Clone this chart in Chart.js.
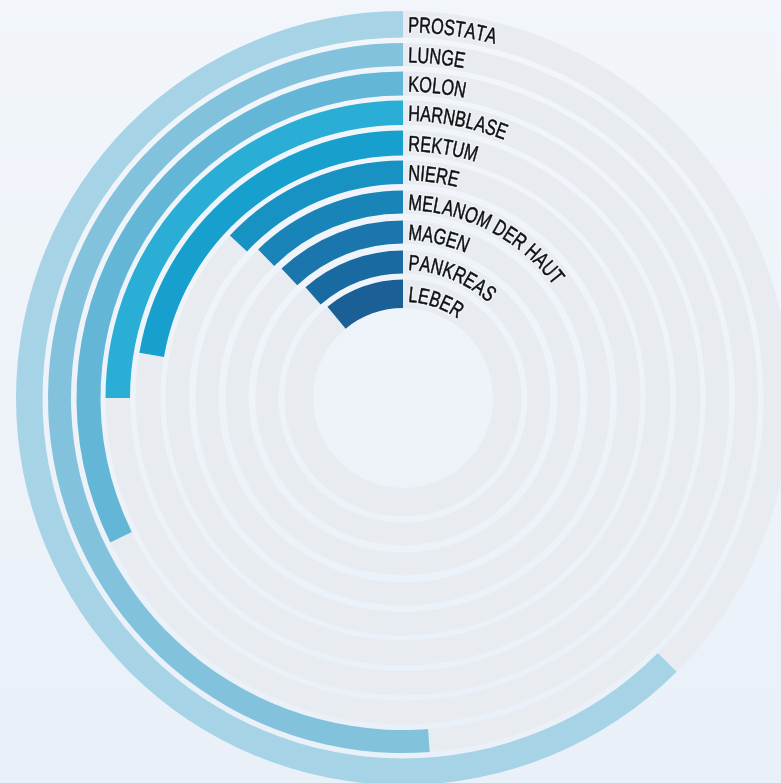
<!DOCTYPE html>
<html>
<head>
<meta charset="utf-8">
<script src="https://cdn.jsdelivr.net/npm/chart.js@4.4.1/dist/chart.umd.min.js"></script>
<style>
  html, body { margin:0; padding:0; width:781px; height:783px; overflow:hidden;
    background: linear-gradient(180deg, #f2f6fb 0%, #eef3f9 50%, #e9f0f8 100%); }
  #wrap { position:absolute; left:16px; top:11px; width:774px; height:774px; }
</style>
</head>
<body>
<div id="wrap"><canvas id="c"></canvas></div>
<script>
// ---- data (percent of full circle) ----
const categories = ['PROSTATA','LUNGE','KOLON','HARNBLASE','REKTUM','NIERE','MELANOM DER HAUT','MAGEN','PANKREAS','LEBER'];
const values = [62.5, 51.2, 32.3, 25.0, 22.3, 13.0, 12.3, 12.0, 11.5, 11.0];
const maxValue = 100;

// ---- styles ----
const colors = ['#a6d3e5','#82c2dc','#63b6d6','#2aaed5','#17a0cd','#1891c3','#1884b8','#1a76ad','#1a6aa2','#1a5f95'];
const trackColor = '#e8ecf1';
const ringWidths = [26.5, 23, 24, 24.5, 25, 23.5, 23, 23, 23, 28.5];
const gapWidths = [5.5, 5.5, 5, 5.5, 5, 6.5, 7, 7, 6];

const datasets = [];
categories.forEach((cat, i) => {
  datasets.push({
    label: cat,
    data: [maxValue - values[i], values[i]],
    backgroundColor: [trackColor, colors[i]],
    borderWidth: 0, hoverOffset: 0, offset: 0,
    weight: ringWidths[i]
  });
  if (i < categories.length - 1) {
    datasets.push({
      label: '', spacer: true, data: [1],
      backgroundColor: ['rgba(0,0,0,0)'],
      borderWidth: 0, hoverOffset: 0, offset: 0,
      weight: gapWidths[i]
    });
  }
});

const arcLabels = {
  id: 'arcLabels',
  afterDatasetsDraw(chart) {
    const ctx = chart.ctx;
    const fontSize = 22;
    const squeeze = 0.74;
    ctx.save();
    ctx.font = fontSize + 'px "Liberation Sans", Arial, sans-serif';
    ctx.textAlign = 'center';
    ctx.textBaseline = 'alphabetic';
    chart.data.datasets.forEach((ds, di) => {
      if (ds.spacer) return;
      const meta = chart.getDatasetMeta(di);
      const arc = meta.data[1];
      const cx = arc.x, cy = arc.y;
      const rMid = (arc.innerRadius + arc.outerRadius) / 2;
      const capH = fontSize * 0.72;
      const r = rMid - capH / 2;
      let acc = 5;
      for (const ch of ds.label) {
        const w = ctx.measureText(ch).width * squeeze;
        const a = (acc + w / 2) / r;
        ctx.save();
        ctx.translate(cx + r * Math.sin(a), cy - r * Math.cos(a));
        ctx.rotate(a);
        ctx.scale(squeeze, 1);
        ctx.lineJoin = 'round';
        ctx.lineWidth = 3.5;
        ctx.strokeStyle = 'rgba(240,245,250,0.85)';
        ctx.strokeText(ch, 0, 0);
        ctx.fillStyle = '#111111';
        ctx.fillText(ch, 0, 0);
        ctx.lineWidth = 0.5;
        ctx.strokeStyle = '#111111';
        ctx.strokeText(ch, 0, 0);
        ctx.restore();
        acc += w;
      }
    });
    ctx.restore();
  }
};

new Chart(document.getElementById('c'), {
  type: 'doughnut',
  data: { labels: ['rest', 'value'], datasets },
  options: {
    responsive: true,
    maintainAspectRatio: false,
    devicePixelRatio: 1,
    animation: false,
    cutout: 90,
    rotation: 0,
    circumference: 360,
    layout: { padding: 0 },
    plugins: { legend: { display: false }, tooltip: { enabled: false } },
    events: []
  },
  plugins: [arcLabels]
});
</script>
</body>
</html>
